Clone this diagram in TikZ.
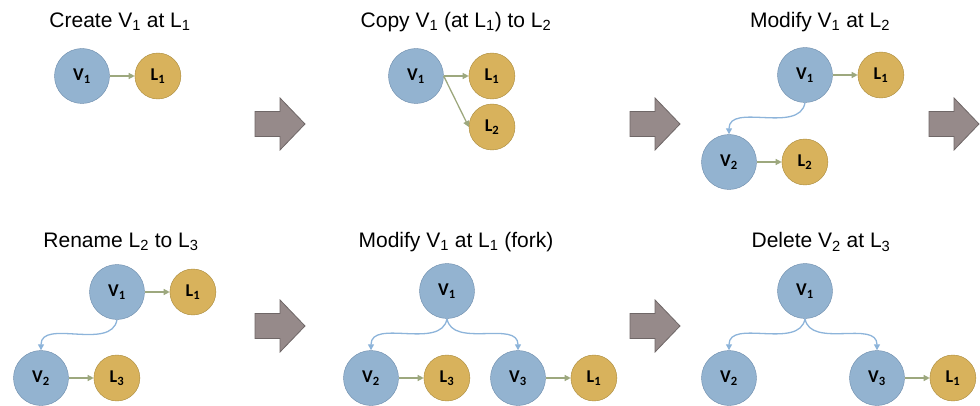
\documentclass[tikz,border=0pt]{standalone}
\usepackage{fontspec}
\setmainfont{Liberation Sans}
\newfontfamily\circfont{Carlito}
\usetikzlibrary{arrows.meta,positioning}

\definecolor{vfill}{HTML}{93B3D0}
\definecolor{vedge}{HTML}{6A8AAA}
\definecolor{lfill}{HTML}{D8B25C}
\definecolor{ledge}{HTML}{A8893A}
\definecolor{locline}{HTML}{9DA87E}
\definecolor{verline}{HTML}{8DB4DA}
\definecolor{stepfill}{HTML}{968A8A}
\definecolor{stepedge}{HTML}{6F6767}

\begin{document}
\begin{tikzpicture}[x=1pt, y=-1pt,
    vnode/.style={circle, draw=vedge, fill=vfill, minimum size=55pt, inner sep=0pt,
      font=\circfont\bfseries\fontsize{18}{18}\selectfont},
    lnode/.style={circle, draw=ledge, fill=lfill, minimum size=46pt, inner sep=0pt,
      font=\circfont\bfseries\fontsize{18}{18}\selectfont},
    title/.style={font=\fontsize{21}{22}\selectfont},
    locarrow/.style={draw=locline, line width=1.3pt, -{Triangle[length=6pt,width=6pt]}},
    verarrow/.style={draw=verline, line width=1.3pt, -{Triangle[length=6pt,width=6pt]}},
    stepshape/.style={fill=stepfill, draw=stepedge, line width=0.8pt}]
    \useasboundingbox (0,0) rectangle (980,406);

    % step arrows
    \foreach \x/\y in {255/124, 630/124, 929/124, 255/326, 630/326} {
      \draw[stepshape] ({\x},{\y-12.5}) -- ({\x+25},{\y-12.5}) -- ({\x+25},{\y-26})
        -- ({\x+50},{\y}) -- ({\x+25},{\y+26}) -- ({\x+25},{\y+12.5})
        -- ({\x},{\y+12.5}) -- cycle;
    }

    % create
    \node[title] (a-t) at (120,22) {Create V\textsubscript{1} at L\textsubscript{1}};
    \node[vnode] (a-v1) at (82,76) {V\textsubscript{1}};
    \node[lnode, right=25pt of a-v1] (a-l1) {L\textsubscript{1}};
    \draw[locarrow] (a-v1) -- (a-l1);

    % copy
    \node[title] (b-t) at (456,22) {Copy V\textsubscript{1} (at L\textsubscript{1}) to L\textsubscript{2}};
    \node[vnode] (b-v1) at (416,76) {V\textsubscript{1}};
    \node[lnode, right=25pt of b-v1] (b-l1) {L\textsubscript{1}};
    \node[lnode] (b-l2) at (492,127) {L\textsubscript{2}};
    \draw[locarrow] (b-v1) -- (b-l1);
    \draw[locarrow] (b-v1.east) -- (b-l2.west);

    % modify
    \node[title] (c-t) at (820,22) {Modify V\textsubscript{1} at L\textsubscript{2}};
    \node[vnode] (c-v1) at (805,75) {V\textsubscript{1}};
    \node[lnode, right=25pt of c-v1] (c-l1) {L\textsubscript{1}};
    \node[vnode] (c-v2) at (729,162) {V\textsubscript{2}};
    \node[lnode, right=25pt of c-v2] (c-l2) {L\textsubscript{2}};
    \draw[locarrow] (c-v1) -- (c-l1);
    \draw[locarrow] (c-v2) -- (c-l2);
    \draw[verarrow] (c-v1.south) to[out=-100, in=90] (c-v2.north);

    % rename
    \node[title] (d-t) at (121,242) {Rename L\textsubscript{2} to L\textsubscript{3}};
    \node[vnode] (d-v1) at (117,292) {V\textsubscript{1}};
    \node[lnode, right=25pt of d-v1] (d-l1) {L\textsubscript{1}};
    \node[vnode] (d-v2) at (41,378) {V\textsubscript{2}};
    \node[lnode, right=25pt of d-v2] (d-l3) {L\textsubscript{3}};
    \draw[locarrow] (d-v1) -- (d-l1);
    \draw[locarrow] (d-v2) -- (d-l3);
    \draw[verarrow] (d-v1.south) to[out=-100, in=90] (d-v2.north);

    % fork
    \node[title] (e-t) at (456,242) {Modify V\textsubscript{1} at L\textsubscript{1} (fork)};
    \node[vnode] (e-v1) at (447,291) {V\textsubscript{1}};
    \node[vnode] (e-v2) at (371,378) {V\textsubscript{2}};
    \node[lnode, right=25pt of e-v2] (e-l3) {L\textsubscript{3}};
    \node[vnode] (e-v3) at (518,378) {V\textsubscript{3}};
    \node[lnode, right=25pt of e-v3] (e-l1) {L\textsubscript{1}};
    \draw[locarrow] (e-v2) -- (e-l3);
    \draw[locarrow] (e-v3) -- (e-l1);
    \draw[verarrow] (e-v1.south) to[out=-100, in=90] (e-v2.north);
    \draw[verarrow] (e-v1.south) to[out=-80, in=90] (e-v3.north);

    % delete
    \node[title] (f-t) at (821,242) {Delete V\textsubscript{2} at L\textsubscript{3}};
    \node[vnode] (f-v1) at (805,291) {V\textsubscript{1}};
    \node[vnode] (f-v2) at (729,378) {V\textsubscript{2}};
    \node[vnode] (f-v3) at (877,378) {V\textsubscript{3}};
    \node[lnode, right=25pt of f-v3] (f-l1) {L\textsubscript{1}};
    \draw[locarrow] (f-v3) -- (f-l1);
    \draw[verarrow] (f-v1.south) to[out=-100, in=90] (f-v2.north);
    \draw[verarrow] (f-v1.south) to[out=-80, in=90] (f-v3.north);
  \end{tikzpicture}
\end{document}
